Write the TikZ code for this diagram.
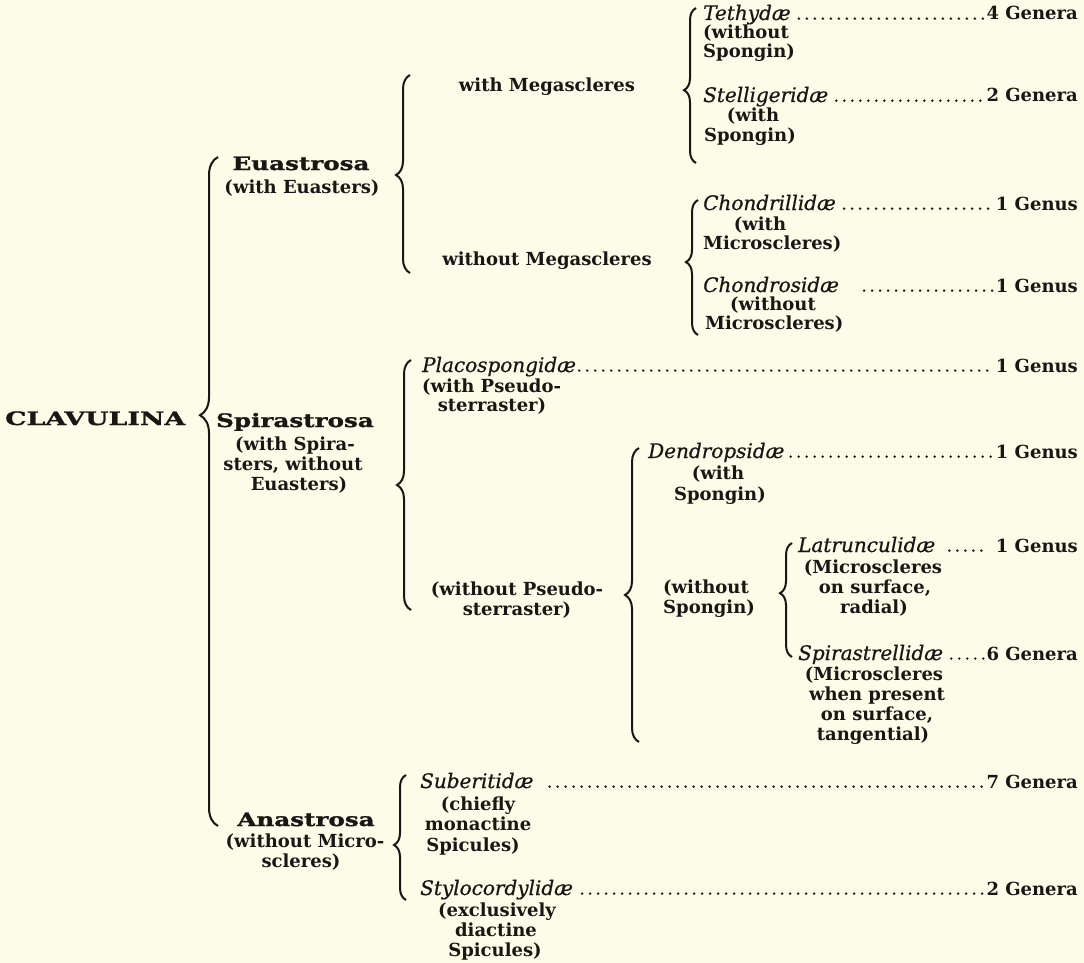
\documentclass[tikz,border=0pt]{standalone}
\usepackage{fontspec}
\setmainfont{DejaVu Serif}
\newfontfamily\hfont{DejaVu Serif}[FakeStretch=1.33, FakeBold=1.3]
\newfontfamily\cfont{DejaVu Serif}[FakeStretch=1.45, FakeBold=1.3]
\newfontfamily\itfont{DejaVu Serif}[FakeBold=0.7]
\usetikzlibrary{decorations.pathreplacing}
\definecolor{paper}{RGB}{253,252,232}
\definecolor{ink}{RGB}{25,22,20}
\begin{document}
\begin{tikzpicture}[x=1pt,y=1pt,
  font=\fontsize{18}{20}\selectfont\bfseries, text=ink,
  txt/.style={inner sep=0pt, anchor=base},
  txtw/.style={inner sep=0pt, anchor=base west},
  head/.style={inner sep=0pt, anchor=base, font=\hfont\bfseries\fontsize{18.5}{20}\selectfont},
  fam/.style={inner sep=0pt, anchor=base west, font=\itfont\mdseries\itshape\fontsize{20}{20}\selectfont},
  num/.style={inner sep=0pt, anchor=base east},
  leader/.style={draw=ink, line width=2.7pt, line cap=round, dash pattern=on 0pt off 8pt},
  brc/.style 2 args={draw=ink, line width=2pt, decorate, decoration={brace, amplitude=#1, aspect=#2}}
]
\fill[paper] (0,0) rectangle (1084,-963);
\useasboundingbox (0,0) rectangle (1084,-963);

% ---------- left column ----------
\node[inner sep=0pt, anchor=base west, font=\cfont\bfseries\fontsize{18.5}{20}\selectfont] (clav) at (5,-425) {CLAVULINA};

\node[head] (eua) at (301,-170) {Euastrosa};
\node[txt] (euad) at (302,-193) {(with Euasters)};

\node[head] (spi) at (295,-427) {Spirastrosa};
\node[txt] (spid1) at (295,-450) {(with Spira-};
\node[txt] (spid2) at (293,-470) {sters, without};
\node[txt] (spid3) at (299,-490) {Euasters)};

\node[head] (ana) at (306,-826) {Anastrosa};
\node[txt] (anad1) at (305,-847) {(without Micro-};
\node[txt] (anad2) at (301,-867) {scleres)};

% ---------- Euastrosa branch ----------
\node[txt] (wm) at (547,-92) {with Megascleres};
\node[txt] (wom) at (547,-265) {without Megascleres};

\node[fam] (teth) at (703,-20) {Tethydæ};
\node[txtw] (tethd1) at (703,-39) {(without};
\node[txtw] (tethd2) at (703,-58) {Spongin)};
\node[fam] (stel) at (703,-102) {Stelligeridæ};
\node[txt] (steld1) at (753,-122) {(with};
\node[txt] (steld2) at (750,-142) {Spongin)};
\node[fam] (chil) at (703,-210) {Chondrillidæ};
\node[txt] (child1) at (760,-230) {(with};
\node[txtw] (child2) at (703,-249) {Microscleres)};
\node[fam] (chos) at (703,-292) {Chondrosidæ};
\node[txt] (chosd1) at (773,-310) {(without};
\node[txtw] (chosd2) at (705,-329) {Microscleres)};

% ---------- Spirastrosa branch ----------
\node[fam] (plac) at (422,-372) {Placospongidæ};
\node[txtw] (placd1) at (422,-392) {(with Pseudo-};
\node[txt] (placd2) at (492,-411) {sterraster)};

\node[txt] (wop1) at (517,-595) {(without Pseudo-};
\node[txt] (wop2) at (517,-615) {sterraster)};

\node[fam] (dend) at (648,-458) {Dendropsidæ};
\node[txt] (dendd1) at (718,-479) {(with};
\node[txt] (dendd2) at (720,-500) {Spongin)};

\node[txtw] (wos1) at (663,-593) {(without};
\node[txtw] (wos2) at (663,-613) {Spongin)};

\node[fam] (latr) at (798,-552) {Latrunculidæ};
\node[txt] (latrd1) at (873,-573) {(Microscleres};
\node[txt] (latrd2) at (875,-593) {on surface,};
\node[txt] (latrd3) at (874,-613) {radial)};

\node[fam] (spir) at (798,-660) {Spirastrellidæ};
\node[txt] (spird1) at (874,-680) {(Microscleres};
\node[txt] (spird2) at (877,-700) {when present};
\node[txt] (spird3) at (877,-720) {on surface,};
\node[txt] (spird4) at (873,-740) {tangential)};

% ---------- Anastrosa branch ----------
\node[fam] (sube) at (420,-788) {Suberitidæ};
\node[txt] (subed1) at (478,-810) {(chiefly};
\node[txt] (subed2) at (478,-830) {monactine};
\node[txt] (subed3) at (473,-851) {Spicules)};

\node[fam] (styl) at (420,-895) {Stylocordylidæ};
\node[txt] (styld1) at (497,-916) {(exclusively};
\node[txt] (styld2) at (496,-936) {diactine};
\node[txt] (styld3) at (495,-956) {Spicules)};

% ---------- numbers ----------
\node[num] (n1) at (1078,-20) {4 Genera};
\node[num] (n2) at (1078,-102) {2 Genera};
\node[num] (n3) at (1078,-210) {1 Genus};
\node[num] (n4) at (1078,-292) {1 Genus};
\node[num] (n5) at (1078,-372) {1 Genus};
\node[num] (n6) at (1078,-458) {1 Genus};
\node[num] (n7) at (1078,-552) {1 Genus};
\node[num] (n8) at (1078,-660) {6 Genera};
\node[num] (n9) at (1078,-788) {7 Genera};
\node[num] (n10) at (1078,-895) {2 Genera};

% ---------- leaders ----------
\draw[leader] ([xshift=8pt,yshift=1.4pt]teth.base east) -- ([xshift=-2pt,yshift=1.4pt]n1.base west);
\draw[leader] ([xshift=8pt,yshift=1.4pt]stel.base east) -- ([xshift=-2pt,yshift=1.4pt]n2.base west);
\draw[leader] ([xshift=8pt,yshift=1.4pt]chil.base east) -- ([xshift=-2pt,yshift=1.4pt]n3.base west);
\draw[leader] ([xshift=25pt,yshift=1.4pt]chos.base east) -- ([xshift=-2pt,yshift=1.4pt]n4.base west);
\draw[leader] ([xshift=3pt,yshift=1.4pt]plac.base east) -- ([xshift=-2pt,yshift=1.4pt]n5.base west);
\draw[leader] ([xshift=6pt,yshift=1.4pt]dend.base east) -- ([xshift=-2pt,yshift=1.4pt]n6.base west);
\draw[leader] ([xshift=14pt,yshift=1.4pt]latr.base east) -- ([xshift=-8pt,yshift=1.4pt]n7.base west);
\draw[leader] ([xshift=8pt,yshift=1.4pt]spir.base east) -- ([xshift=-2pt,yshift=1.4pt]n8.base west);
\draw[leader] ([xshift=16pt,yshift=1.4pt]sube.base east) -- ([xshift=-2pt,yshift=1.4pt]n9.base west);
\draw[leader] ([xshift=9pt,yshift=1.4pt]styl.base east) -- ([xshift=-2pt,yshift=1.4pt]n10.base west);

% ---------- braces ----------
\coordinate (b0b) at (218,-826); \coordinate (b0t) at (218,-157);
\draw[brc={18pt}{0.614}] (b0b) -- (b0t);
\coordinate (b1b) at (410,-273); \coordinate (b1t) at (410,-75);
\draw[brc={14pt}{0.495}] (b1b) -- (b1t);
\coordinate (b2b) at (411,-610); \coordinate (b2t) at (411,-360);
\draw[brc={14pt}{0.5}] (b2b) -- (b2t);
\coordinate (b3b) at (406,-900); \coordinate (b3t) at (406,-775);
\draw[brc={12pt}{0.44}] (b3b) -- (b3t);
\coordinate (b4b) at (696,-163); \coordinate (b4t) at (696,-8);
\draw[brc={12pt}{0.47}] (b4b) -- (b4t);
\coordinate (b5b) at (698,-335); \coordinate (b5t) at (698,-200);
\draw[brc={12pt}{0.54}] (b5b) -- (b5t);
\coordinate (b6b) at (639,-742); \coordinate (b6t) at (639,-448);
\draw[brc={14pt}{0.5}] (b6b) -- (b6t);
\coordinate (b7b) at (792,-657); \coordinate (b7t) at (792,-543);
\draw[brc={12pt}{0.56}] (b7b) -- (b7t);
\end{tikzpicture}
\end{document}
